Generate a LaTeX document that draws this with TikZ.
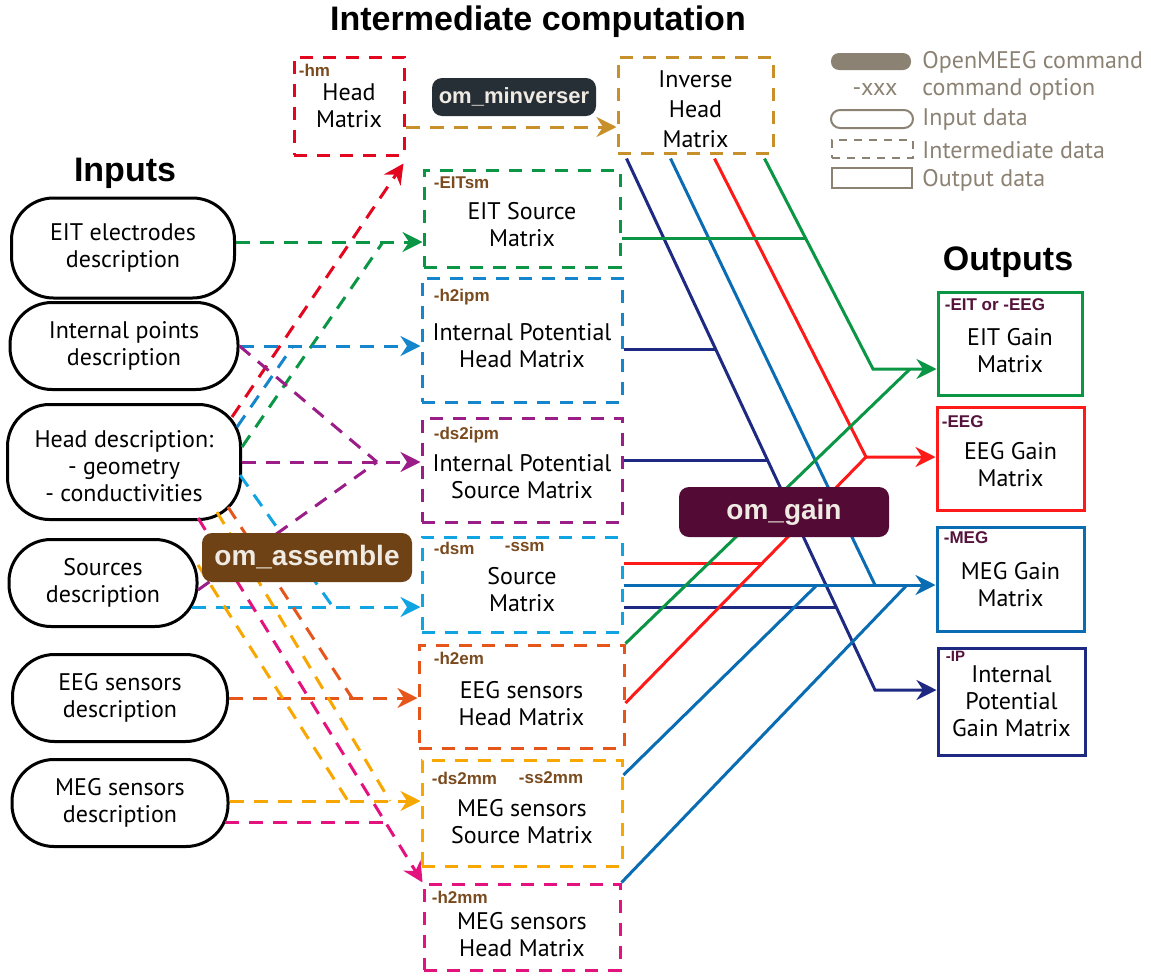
\documentclass[tikz,border=0pt]{standalone}
\usepackage{fontspec}
\setmainfont{PT Sans}
\newfontfamily\hfont{Liberation Sans}
\usetikzlibrary{arrows.meta,positioning}

\definecolor{colRed}{HTML}{E2061F}
\definecolor{colGRed}{HTML}{FF1A1A}
\definecolor{colGold}{HTML}{C8902A}
\definecolor{colGreen}{HTML}{0B9646}
\definecolor{colIP}{HTML}{1585CC}
\definecolor{colPurple}{HTML}{9B1D88}
\definecolor{colSrc}{HTML}{10A4E2}
\definecolor{colOrange}{HTML}{E6561A}
\definecolor{colYellow}{HTML}{F8A600}
\definecolor{colPink}{HTML}{E3127E}
\definecolor{colNavy}{HTML}{1E2A82}
\definecolor{colMeg}{HTML}{0A6DB4}
\definecolor{optBrown}{HTML}{7A4B1F}
\definecolor{optOut}{HTML}{55123A}
\definecolor{legCol}{HTML}{8B8274}
\definecolor{minvCol}{HTML}{262E36}
\definecolor{asmCol}{HTML}{6F4216}
\definecolor{gainCol}{HTML}{530B36}
\definecolor{cmdText}{HTML}{EFEAE2}

% pushes a box text down a little
\newcommand{\dn}[1]{\rule{0pt}{#1}}

\begin{document}
\begin{tikzpicture}[x=0.5pt,y=-0.5pt,
  txt/.style={font=\fontsize{12}{13.5}\selectfont, align=center},
  inbox/.style={txt, draw, line width=1.5pt, rounded corners=21pt, inner sep=0pt},
  midbox/.style={txt, draw, line width=1.5pt, dash pattern=on 6.5pt off 5pt, inner sep=0pt},
  outbox/.style={txt, draw, line width=1.5pt, inner sep=0pt},
  cmd/.style={fill=#1, text=cmdText, rounded corners=5pt, inner sep=0pt,
    font=\hfont\bfseries\fontsize{14}{14}\selectfont},
  opt/.style={font=\hfont\bfseries\fontsize{8.5}{9}\selectfont, text=optBrown,
    inner sep=0pt, anchor=north west},
  title/.style={font=\hfont\bfseries\fontsize{17}{17}\selectfont},
  lgtxt/.style={text=legCol, font=\fontsize{12}{13}\selectfont, inner sep=0pt},
  dl/.style={line width=1.5pt, dash pattern=on 7pt off 5pt},
  sl/.style={line width=1.5pt},
  arr/.style={-{Stealth[length=10pt,width=10pt]}},
]
\useasboundingbox (0,0) rectangle (1151,975);

% titles
\node[title] (ttlmid) at (538,22) {Intermediate computation};
\node[title] (ttlin) at (125,173) {Inputs};
\node[title] (ttlout) at (1008,262) {Outputs};

% inputs
\node[inbox, minimum width=111.5pt, minimum height=50pt] (eitel) at (123,248) {EIT electrodes\\description};
\node[inbox, minimum width=114pt, minimum height=43.5pt] (intpts) at (124,346) {Internal points\\description};
\node[inbox, minimum width=116.5pt, minimum height=57.5pt] (headd) at (124,462) {\dn{13pt}Head description:\\- geometry\\- conductivities};
\node[inbox, minimum width=94pt, minimum height=43.5pt] (srcd) at (103,583) {Sources\\description};
\node[inbox, minimum width=107.5pt, minimum height=43.5pt] (eegs) at (120,698) {EEG sensors\\description};
\node[inbox, minimum width=108pt, minimum height=43.5pt] (megs) at (120,803) {MEG sensors\\description};

% intermediate data
\node[midbox, draw=colRed, minimum width=55pt, minimum height=49pt] (hm) at (349,106) {Head\\Matrix};
\node[midbox, draw=colGold, minimum width=77.5pt, minimum height=48pt, font=\fontsize{12}{15}\selectfont] (ihm) at (695.5,105) {\dn{12.5pt}Inverse\\Head\\Matrix};
\node[midbox, draw=colGreen, minimum width=98pt, minimum height=48.5pt] (eitsm) at (522,218.5) {\dn{15pt}EIT Source\\Matrix};
\node[midbox, draw=colIP, minimum width=100pt, minimum height=62pt] (h2ipm) at (522,340) {\dn{14pt}Internal Potential\\Head Matrix};
\node[midbox, draw=colPurple, minimum width=100pt, minimum height=52pt] (ds2ipm) at (522,470) {\dn{15pt}Internal Potential\\Source Matrix};
\node[midbox, draw=colSrc, minimum width=100pt, minimum height=47.5pt] (dsm) at (522,584.5) {\dn{14pt}Source\\Matrix};
\node[midbox, draw=colOrange, minimum width=102.5pt, minimum height=51.5pt] (h2em) at (521.5,696.5) {\dn{16pt}EEG sensors\\Head Matrix};
\node[midbox, draw=colYellow, minimum width=100pt, minimum height=53pt] (ds2mm) at (522,813) {\dn{17pt}MEG sensors\\Source Matrix};
\node[midbox, draw=colPink, minimum width=98pt, minimum height=43pt] (h2mm) at (522,927) {\dn{16pt}MEG sensors\\Head Matrix};

\node[opt] (hmo) at ([shift={(6,8)}]hm.north west) {-hm};
\node[opt] (eitsmo) at ([shift={(11,8)}]eitsm.north west) {-EITsm};
\node[opt] (h2ipmo) at ([shift={(13,12)}]h2ipm.north west) {-h2ipm};
\node[opt] (ds2ipmo) at ([shift={(13,10)}]ds2ipm.north west) {-ds2ipm};
\node[opt] (dsmo) at ([shift={(13,6)}]dsm.north west) {-dsm};
\node[opt] (ssmo) at ([shift={(84,6)}]dsm.north west) {-ssm};
\node[opt] (h2emo) at ([shift={(16,8)}]h2em.north west) {-h2em};
\node[opt] (ds2mmo) at ([shift={(11,13)}]ds2mm.north west) {-ds2mm};
\node[opt] (ss2mmo) at ([shift={(98,13)}]ds2mm.north west) {-ss2mm};
\node[opt] (h2mmo) at ([shift={(9,8)}]h2mm.north west) {-h2mm};

% outputs
\node[outbox, draw=colGreen, minimum width=72pt, minimum height=51.5pt] (geit) at (1010,343.5) {\dn{16pt}EIT Gain\\Matrix};
\node[outbox, draw=colGRed, minimum width=73.5pt, minimum height=51.5pt] (geeg) at (1010.5,458.5) {\dn{15pt}EEG Gain\\Matrix};
\node[outbox, draw=colMeg, minimum width=73.5pt, minimum height=52pt] (gmeg) at (1010.5,579) {\dn{14pt}MEG Gain\\Matrix};
\node[outbox, draw=colNavy, minimum width=73.5pt, minimum height=53.5pt] (gip) at (1011.5,701.5) {Internal\\Potential\\Gain Matrix};

\node[opt, text=optOut] (geito) at ([shift={(8,8)}]geit.north west) {-EIT or -EEG};
\node[opt, text=optOut] (geego) at ([shift={(6,10)}]geeg.north west) {-EEG};
\node[opt, text=optOut] (gmego) at ([shift={(8,6)}]gmeg.north west) {-MEG};
\node[opt, text=optOut, font=\hfont\bfseries\fontsize{7.5}{8}\selectfont] (gipo) at ([shift={(9,4)}]gip.north west) {-IP};

% legend
\node[fill=legCol, rounded corners=4pt, minimum width=40pt, minimum height=8.5pt, inner sep=0pt] (lgcmd) at (871,61.5) {};
\node[lgtxt, anchor=west] (lgcmdt) at (922,62) {OpenMEEG command};
\node[lgtxt] (lgopt) at (875,89) {-xxx};
\node[lgtxt, anchor=west] (lgoptt) at (922,89) {command option};
\node[draw=legCol, line width=1pt, rounded corners=4.5pt, minimum width=41pt, minimum height=9pt, inner sep=0pt] (lgin) at (872,119) {};
\node[lgtxt, anchor=west] (lgint) at (922,119) {Input data};
\node[draw=legCol, line width=1pt, dash pattern=on 4pt off 3.5pt, minimum width=40.5pt, minimum height=9pt, inner sep=0pt] (lgmid) at (872.5,149) {};
\node[lgtxt, anchor=west] (lgmidt) at (922,150) {Intermediate data};
\node[draw=legCol, line width=1pt, minimum width=40pt, minimum height=10pt, inner sep=0pt] (lgout) at (872,178) {};
\node[lgtxt, anchor=west] (lgoutt) at (922,180) {Output data};

% om_assemble inputs
\draw[dl, colRed, arr] ([shift={(108,-45)}]headd.center) -- ([shift={(-2,7)}]hm.south east);
\draw[dl, colGold, arr] ([shift={(0,21)}]hm.east) -- ([shift={(0,22)}]ihm.west);

\coordinate (eitj) at (383,242);
\draw[dl, colGreen, arr] ([shift={(0,-6)}]eitel.east) coordinate (eitin) -- (eitin -| eitsm.west);
\draw[dl, colGreen] ([shift={(0,-15)}]headd.east) -- (eitj);

\coordinate (ipj) at (293,346);
\draw[dl, colIP, arr] (intpts.east) coordinate (ipin) -- (ipin -| h2ipm.west);
\draw[dl, colIP] ([shift={(113,-35)}]headd.center) -- (ipj);

\coordinate (ipsj) at (377,462);
\draw[dl, colPurple, arr] (headd.east) coordinate (ipsin) -- (ipsin -| ds2ipm.west);
\draw[dl, colPurple] (intpts.east) -- (ipsj);
\draw[dl, colPurple] ([shift={(95,7)}]srcd.center) -- (ipsj);

\coordinate (srcj) at (333,607);
\draw[dl, colSrc, arr] ([shift={(89,24)}]srcd.center) coordinate (srcin) -- (srcin -| dsm.west);
\draw[dl, colSrc] ([shift={(116,13)}]headd.center) -- (srcj);

\coordinate (eegj) at (352,698);
\draw[dl, colOrange, arr] (eegs.east) coordinate (eegin) -- (eegin -| h2em.west);
\draw[dl, colOrange] ([shift={(104,45)}]headd.center) -- (eegj);

\coordinate (msj1) at (348,801);
\coordinate (msj2) at (390,801);
\draw[dl, colYellow, arr] ([shift={(0,-2)}]megs.east) coordinate (msin) -- (msin -| ds2mm.west);
\draw[dl, colYellow] ([shift={(95,-18)}]srcd.center) -- (msj1);
\draw[dl, colYellow] ([shift={(93,50)}]headd.center) -- (msj2);

\coordinate (mhj) at (384,822);
\draw[dl, colPink, arr] ([shift={(74,56)}]headd.center) -- (h2mm.north west);
\draw[dl, colPink] ([shift={(105,19)}]megs.center) -- (mhj);

% om_gain inputs
\coordinate (nvs) at ([shift={(10,4)}]ihm.south west);
\coordinate (nvc) at (875,690);
\coordinate (nvj1) at (717,349);
\coordinate (nvj2) at (768,460);
\coordinate (nvj3) at (836.5,607);
\draw[sl, colNavy, arr] (nvs) -- (nvc) -- (nvc -| gip.west);
\draw[sl, colNavy] ([shift={(0,9)}]h2ipm.east) -- (nvj1);
\draw[sl, colNavy] ([shift={(0,-10)}]ds2ipm.east) -- (nvj2);
\draw[sl, colNavy] ([shift={(0,22.5)}]dsm.east) -- (nvj3);

\coordinate (mgs) at ([shift={(54,4)}]ihm.south west);
\coordinate (mgc) at (875,585);
\coordinate (mgj1) at (817,585);
\coordinate (mgj2) at (907,585);
\draw[sl, colMeg] (mgs) -- (mgc);
\draw[sl, colMeg, arr] ([shift={(0,0.5)}]dsm.east) coordinate (mgin) -- (mgin -| gmeg.west);
\draw[sl, colMeg] ([shift={(0,-38)}]ds2mm.east) -- (mgj1);
\draw[sl, colMeg] (h2mm.north east) -- (mgj2);

\coordinate (egs) at ([shift={(98,4)}]ihm.south west);
\coordinate (egc) at (866,457);
\coordinate (egj) at (762,563);
\draw[sl, colGRed, arr] (egs) -- (egc) -- (egc -| geeg.west);
\draw[sl, colGRed] ([shift={(0,6.5)}]h2em.east) -- (egc);
\draw[sl, colGRed] ([shift={(0,-21.5)}]dsm.east) -- (egj);

\coordinate (gts) at ([shift={(148,4)}]ihm.south west);
\coordinate (gtc) at (873,369);
\coordinate (gtj1) at (807,238);
\coordinate (gtj2) at (910,369);
\draw[sl, colGreen, arr] (gts) -- (gtc) -- (gtc -| geit.west);
\draw[sl, colGreen] ([shift={(0,19.5)}]eitsm.east) -- (gtj1);
\draw[sl, colGreen] (h2em.north east) -- (gtj2);

% commands
\node[cmd=minvCol, minimum width=82pt, minimum height=19pt, font=\hfont\bfseries\fontsize{11}{11}\selectfont] (minv) at (514,97) {om\_minverser};
\node[cmd=asmCol, minimum width=105pt, minimum height=24.5pt] (asm) at (307,557.5) {om\_assemble};
\node[cmd=gainCol, minimum width=105pt, minimum height=25pt] (gain) at (784,512) {om\_gain};
\end{tikzpicture}
\end{document}
